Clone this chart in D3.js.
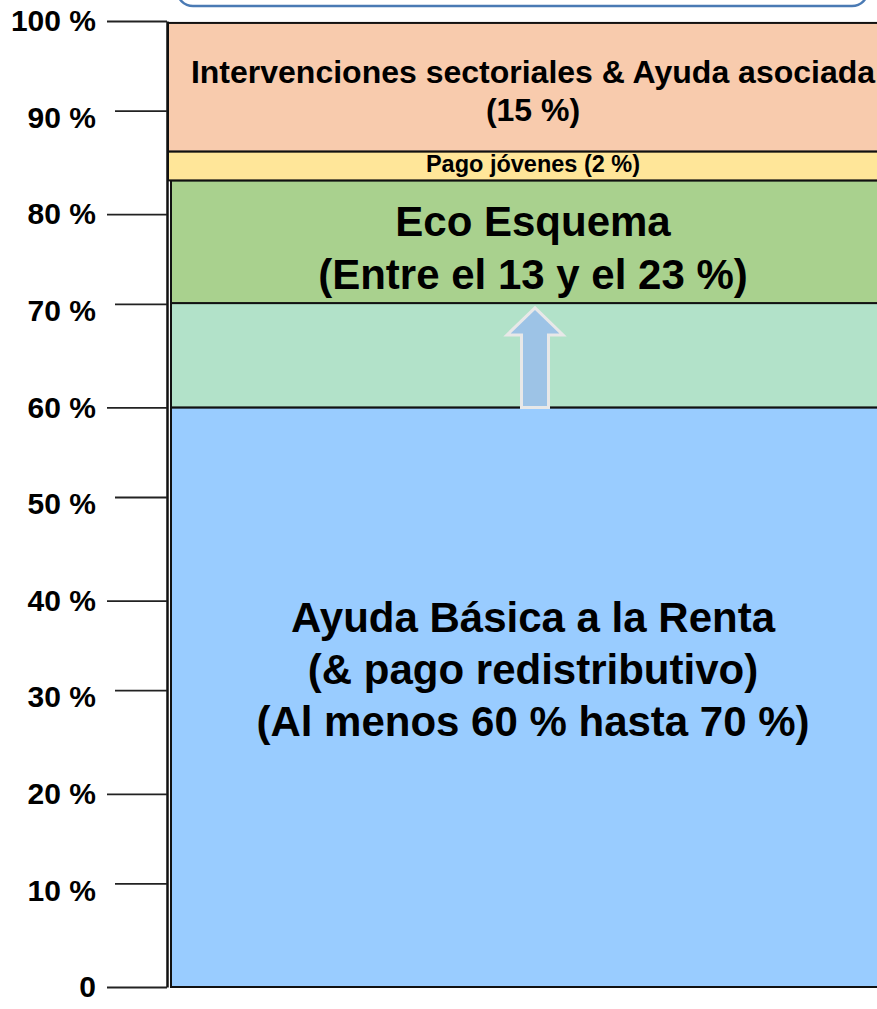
<!DOCTYPE html>
<html lang="es">
<head>
<meta charset="UTF-8">
<script src="https://d3js.org/d3.v7.min.js"></script>
<style>
  body { margin: 0; background: #fff; }
  svg { display: block; font-family: "Liberation Sans", Arial, sans-serif; font-weight: bold; }
</style>
</head>
<body>
<div id="plot"></div>
<script>
// share of the direct payments envelope (%)
const segNames = ["basica", "flex", "eco", "jovenes", "sectorial"];
const segLow   = [0, 60, 70.8, 83.5, 86.5];
const segHigh  = [60, 70.8, 83.5, 86.5, 99.8];
const segLines = [
  ["Ayuda Básica a la Renta", "(& pago redistributivo)", "(Al menos 60 % hasta 70 %)"],
  [],
  ["Eco Esquema", "(Entre el 13 y el 23 %)"],
  ["Pago jóvenes (2 %)"],
  ["Intervenciones sectoriales & Ayuda asociada", "(15 %)"]
];
const labelAt = [32.9, 65, 76.5, 85.2, 92.8];   // where each label block is centred
const tickValues = [0, 10, 20, 30, 40, 50, 60, 70, 80, 90, 100];
const arrowFrom = 60, arrowTo = 70.3;

function draw() {
  const width = 877, height = 1009;
  const svg = d3.select("#plot").append("svg")
      .attr("width", width)
      .attr("height", height);

  // scales
  const y = d3.scaleLinear().domain([0, 100]).range([987, 21]);
  const x = d3.scaleBand().domain(["PAC"]).range([168, 898]);
  const color = d3.scaleOrdinal()
      .domain(segNames)
      .range(["#99ccff", "#b2e2c9", "#a9d18e", "#ffe699", "#f8cbad"]);
  const fontSize = d3.scaleOrdinal()
      .domain(segNames)
      .range([42, 0, 42, 23.5, 32]);
  const lineGap = d3.scaleOrdinal()
      .domain(segNames)
      .range([52, 0, 53, 0, 38]);

  // rounded box from the slide, mostly cut off at the top
  svg.append("rect")
      .attr("x", 177).attr("y", -40)
      .attr("width", 691).attr("height", 46)
      .attr("rx", 16)
      .attr("fill", "#fff")
      .attr("stroke", "#4a7ab4")
      .attr("stroke-width", 2.5);

  const segs = segNames.map((n, i) => ({name: n, lo: segLow[i], hi: segHigh[i], lines: segLines[i], at: labelAt[i]}));

  // lower three boxes sit a little inside the axis
  const inset = d => (d.name === "jovenes" || d.name === "sectorial") ? 0 : 3;

  svg.append("g").selectAll("rect")
    .data(segs)
    .join("rect")
      .attr("x", d => x("PAC") + inset(d))
      .attr("width", x.bandwidth())
      .attr("y", d => y(d.hi))
      .attr("height", d => y(d.lo) - y(d.hi))
      .attr("fill", d => color(d.name))
      .attr("stroke", "#111")
      .attr("stroke-width", 2);

  // arrow (flexible 60 -> 70 %)
  const cx = x("PAC") + x.bandwidth() / 2 + 2;
  const yb = y(arrowFrom), yt = y(arrowTo), head = 27, hw = 28, sw = 13.5;
  svg.append("path")
      .attr("d", `M${cx - sw},${yb} L${cx - sw},${yt + head} L${cx - hw},${yt + head} L${cx},${yt} L${cx + hw},${yt + head} L${cx + sw},${yt + head} L${cx + sw},${yb} Z`)
      .attr("fill", "#9dc3e6")
      .attr("stroke", "#e8e8e8")
      .attr("stroke-width", 3);

  // labels inside the boxes
  const lab = svg.append("g").attr("text-anchor", "middle").attr("fill", "#000");
  segs.filter(d => d.lines.length).forEach(d => {
    const fs = fontSize(d.name), gap = lineGap(d.name);
    const n = d.lines.length;
    const t = lab.append("text")
        .attr("font-size", fs + "px")
        .attr("y", y(d.at));
    t.selectAll("tspan")
      .data(d.lines)
      .join("tspan")
        .attr("x", x("PAC") + x.bandwidth() / 2)
        .attr("y", (s, i) => y(d.at) + (i - (n - 1) / 2) * gap)
        .attr("dy", "0.35em")
        .text(s => s);
  });

  // y axis
  const yAxis = d3.axisLeft(y)
      .tickValues(tickValues)
      .tickFormat(d => d === 0 ? "0" : d + " %")
      .tickSize(60)
      .tickSizeOuter(0)
      .tickPadding(11);

  const ag = svg.append("g")
      .attr("transform", "translate(167,0)")
      .call(yAxis);
  ag.select(".domain").attr("stroke", "#111").attr("stroke-width", 2.5);
  ag.selectAll(".tick line")
      .attr("stroke", "#222")
      .attr("stroke-width", 1.8)
      .attr("x2", d => (d / 10) % 2 ? -52 : -60)
      .attr("transform", d => (d / 10) % 2 ? "translate(0,-7)" : null);
  ag.selectAll(".tick text")
      .attr("fill", "#000")
      .attr("font-size", "30px")
      .attr("font-family", "Liberation Sans, Arial, sans-serif")
      .attr("font-weight", "bold");
}

window.onload = draw;
</script>
</body>
</html>
